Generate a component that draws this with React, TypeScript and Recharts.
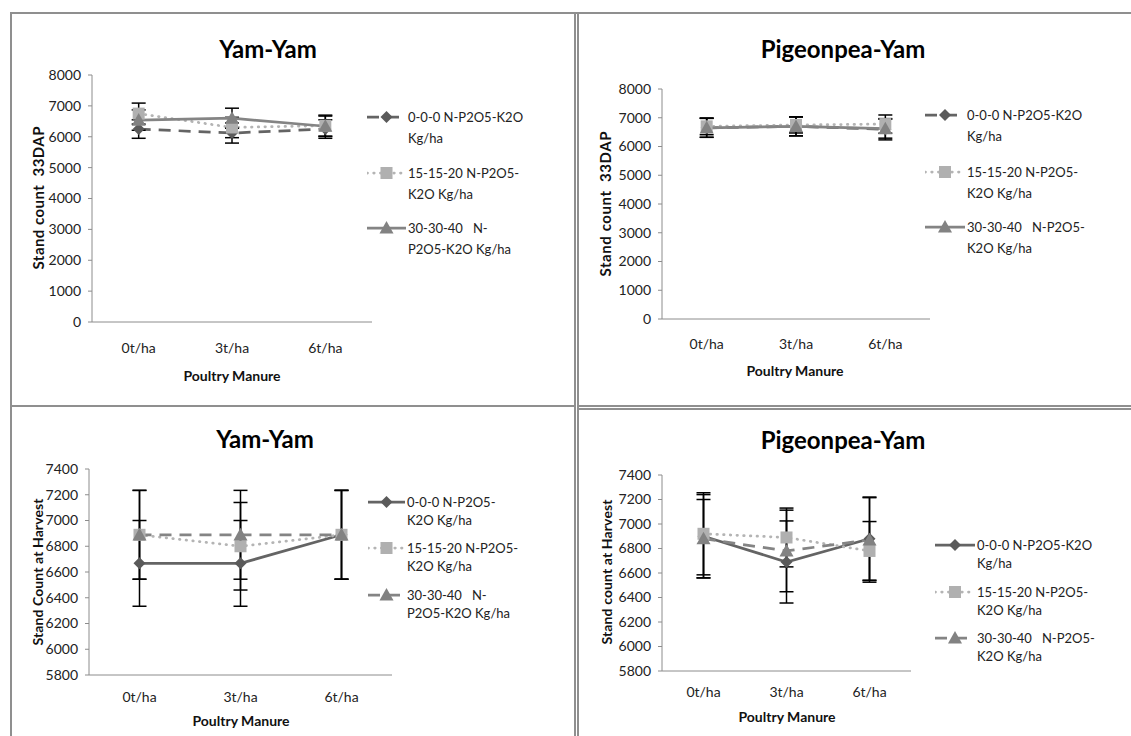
import React from "react";
import { LineChart, Line, XAxis, YAxis, ErrorBar } from "recharts";

const FONT = "Lato, 'Open Sans', sans-serif";

const categories = ["0t/ha", "3t/ha", "6t/ha"];
const dapTicks = [0, 1000, 2000, 3000, 4000, 5000, 6000, 7000, 8000];
const harvestTicks = [5800, 6000, 6200, 6400, 6600, 6800, 7000, 7200, 7400];

// Yam-Yam, stand count 33 DAP
const yamDapNone = [6250, 6120, 6250];
const yamDapNoneErr = [300, 325, 300];
const yamDapLow = [6750, 6300, 6360];
const yamDapLowErr = [340, 330, 340];
const yamDapHigh = [6540, 6600, 6340];
const yamDapHighErr = [330, 325, 330];

// Pigeonpea-Yam, stand count 33 DAP
const pigDapNone = [6650, 6700, 6600];
const pigDapNoneErr = [330, 330, 370];
const pigDapLow = [6700, 6750, 6780];
const pigDapLowErr = [290, 280, 316];
const pigDapHigh = [6650, 6700, 6620];
const pigDapHighErr = [330, 330, 330];

// Yam-Yam, stand count at harvest
const yamHarvNone = [6667, 6667, 6889];
const yamHarvNoneErr = [333, 333, 345];
const yamHarvLow = [6889, 6800, 6889];
const yamHarvLowErr = [345, 340, 345];
const yamHarvHigh = [6889, 6889, 6889];
const yamHarvHighErr = [345, 345, 345];

// Pigeonpea-Yam, stand count at harvest
const pigHarvNone = [6900, 6690, 6880];
const pigHarvNoneErr = [340, 335, 340];
const pigHarvLow = [6920, 6890, 6780];
const pigHarvLowErr = [335, 240, 240];
const pigHarvHigh = [6880, 6780, 6870];
const pigHarvHighErr = [320, 333, 345];

const build = (a: number[], ae: number[], b: number[], be: number[], c: number[], ce: number[]) =>
  categories.map((name, i) => ({ name, s1: a[i], s1e: ae[i], s2: b[i], s2e: be[i], s3: c[i], s3e: ce[i] }));

const DASH = "12 8";
const DOT = "0.5 6.2";

const C1 = { line: "#646464", marker: "#5a5a5a" };
const C2 = { line: "#b4b4b4", marker: "#b0b0b0" };
const C3 = { line: "#848484", marker: "#828282" };

function Marker({ shape, cx, cy, fill }: any) {
  if (cx == null || cy == null) return null;
  if (shape === "diamond") {
    const s = 6;
    return <path d={`M${cx},${cy - s}L${cx + s},${cy}L${cx},${cy + s}L${cx - s},${cy}Z`} fill={fill} />;
  }
  if (shape === "square") {
    const s = 6;
    return <rect x={cx - s} y={cy - s} width={s * 2} height={s * 2} fill={fill} />;
  }
  const s = 7;
  return <path d={`M${cx},${cy - s}L${cx + s},${cy + s * 0.8}L${cx - s},${cy + s * 0.8}Z`} fill={fill} />;
}

const topStyles = [
  { key: "s1", dash: DASH, shape: "diamond", c: C1 },
  { key: "s2", dash: DOT, shape: "square", c: C2 },
  { key: "s3", dash: undefined, shape: "triangle", c: C3 },
];
const bottomStyles = [
  { key: "s1", dash: undefined, shape: "diamond", c: C1 },
  { key: "s2", dash: DOT, shape: "square", c: C2 },
  { key: "s3", dash: DASH, shape: "triangle", c: C3 },
];

const panels = [
  {
    title: "Yam-Yam", tx: 268, ty: 48,
    yLabel: "Stand count  33DAP", yls: 15, ylLen: 143, ylx: 38, yly: 198,
    xlx: 232, xly: 375, xtm: 15,
    plot: { left: 92, right: 372, top: 75, bottom: 322 },
    domain: [0, 8000], ticks: dapTicks,
    rows: build(yamDapNone, yamDapNoneErr, yamDapLow, yamDapLowErr, yamDapHigh, yamDapHighErr),
    styles: topStyles,
    legend: {
      x: 367, text: 408, ys: [117, 173, 228], lh: 21,
      labels: [["0-0-0 N-P2O5-K2O", "Kg/ha"], ["15-15-20 N-P2O5-", "K2O Kg/ha"], ["30-30-40   N-", "P2O5-K2O Kg/ha"]],
    },
  },
  {
    title: "Pigeonpea-Yam", tx: 843, ty: 48,
    yLabel: "Stand count  33DAP", yls: 15, ylLen: 145, ylx: 605, yly: 204,
    xlx: 795, xly: 370, xtm: 14,
    plot: { left: 662, right: 930, top: 89, bottom: 319 },
    domain: [0, 8000], ticks: dapTicks,
    rows: build(pigDapNone, pigDapNoneErr, pigDapLow, pigDapLowErr, pigDapHigh, pigDapHighErr),
    styles: topStyles,
    legend: {
      x: 925, text: 967, ys: [115, 172, 227], lh: 21,
      labels: [["0-0-0 N-P2O5-K2O", "Kg/ha"], ["15-15-20 N-P2O5-", "K2O Kg/ha"], ["30-30-40   N-P2O5-", "K2O Kg/ha"]],
    },
  },
  {
    title: "Yam-Yam", tx: 265, ty: 438,
    yLabel: "Stand Count at Harvest", yls: 14, ylLen: 147, ylx: 37, yly: 572,
    xlx: 241, xly: 720, xtm: 11,
    plot: { left: 89, right: 392, top: 469, bottom: 675 },
    domain: [5800, 7400], ticks: harvestTicks,
    rows: build(yamHarvNone, yamHarvNoneErr, yamHarvLow, yamHarvLowErr, yamHarvHigh, yamHarvHighErr),
    styles: bottomStyles,
    legend: {
      x: 368, text: 407, ys: [502, 548, 595], lh: 18.5,
      labels: [["0-0-0 N-P2O5-", "K2O Kg/ha"], ["15-15-20 N-P2O5-", "K2O Kg/ha"], ["30-30-40   N-", "P2O5-K2O Kg/ha"]],
    },
  },
  {
    title: "Pigeonpea-Yam", tx: 843, ty: 439,
    yLabel: "Stand count at Harvest", yls: 14, ylLen: 145, ylx: 606, yly: 572,
    xlx: 787, xly: 716, xtm: 10,
    plot: { left: 662, right: 911, top: 475, bottom: 671 },
    domain: [5800, 7400], ticks: harvestTicks,
    rows: build(pigHarvNone, pigHarvNoneErr, pigHarvLow, pigHarvLowErr, pigHarvHigh, pigHarvHighErr),
    styles: bottomStyles,
    legend: {
      x: 935, text: 977, ys: [545, 592, 638], lh: 18,
      labels: [["0-0-0 N-P2O5-K2O", "Kg/ha"], ["15-15-20 N-P2O5-", "K2O Kg/ha"], ["30-30-40   N-P2O5-", "K2O Kg/ha"]],
    },
  },
];

const Y_W = 60;
const M_TOP = 10;
const M_RIGHT = 10;
const X_H = 40;

function Panel({ p }: any) {
  const plotW = p.plot.right - p.plot.left;
  const pad = plotW / categories.length / 2;
  const w = plotW + Y_W + M_RIGHT;
  const h = p.plot.bottom - p.plot.top + M_TOP + X_H;
  const tick = { fill: "#222", fontSize: 14, fontFamily: FONT };
  const iconW = p.legend.text - p.legend.x - 2;
  return (
    <>
      <div style={{ position: "absolute", left: p.plot.left - Y_W, top: p.plot.top - M_TOP }}>
        <LineChart width={w} height={h} data={p.rows} margin={{ top: M_TOP, right: M_RIGHT, left: 0, bottom: 0 }}>
          <XAxis dataKey="name" height={X_H} tickLine={false} tickMargin={p.xtm} interval={0}
            padding={{ left: pad, right: pad }}
            axisLine={{ stroke: "#8c8c8c" }} tick={tick} />
          <YAxis type="number" domain={p.domain} ticks={p.ticks} interval={0} width={Y_W}
            axisLine={{ stroke: "#8c8c8c" }} tickLine={{ stroke: "#8c8c8c" }} tickSize={4} tickMargin={7}
            tick={tick} allowDataOverflow />
          {p.styles.map((s: any) => (
            <Line key={s.key} dataKey={s.key} type="linear" stroke={s.c.line} strokeWidth={2.75}
              strokeDasharray={s.dash} strokeLinecap={s.dash === DOT ? "round" : "butt"}
              isAnimationActive={false}
              dot={(d: any) => <Marker key={`${s.key}-${d.index}`} shape={s.shape} cx={d.cx} cy={d.cy} fill={s.c.marker} />}
              activeDot={false}>
              <ErrorBar dataKey={`${s.key}e`} direction="y" width={7} stroke="#000" strokeWidth={1.5} isAnimationActive={false} />
            </Line>
          ))}
        </LineChart>
      </div>
      {p.styles.map((s: any, i: number) => (
        <div key={s.key}>
          <svg style={{ position: "absolute", left: p.legend.x, top: p.legend.ys[i] - 8 }} width={iconW} height={16}>
            <line x1={0} x2={iconW} y1={8} y2={8} stroke={s.c.line} strokeWidth={2.75}
              strokeDasharray={s.dash} strokeLinecap={s.dash === DOT ? "round" : "butt"} />
            <Marker shape={s.shape} cx={iconW / 2} cy={8} fill={s.c.marker} />
          </svg>
          <div style={{ position: "absolute", left: p.legend.text, top: p.legend.ys[i] - p.legend.lh / 2,
            fontFamily: FONT, fontSize: 13, lineHeight: `${p.legend.lh}px`, color: "#222", whiteSpace: "pre" }}>
            {p.legend.labels[i].map((t: string) => <div key={t}>{t}</div>)}
          </div>
        </div>
      ))}
    </>
  );
}

function Texts() {
  return (
    <svg width={1131} height={736} style={{ position: "absolute", left: 0, top: 0, pointerEvents: "none" }}
      fontFamily={FONT} fontWeight={700}>
      {panels.map((p, i) => (
        <g key={i}>
          <text x={p.tx} y={p.ty} textAnchor="middle" dominantBaseline="central" fontSize={24} fill="#000">{p.title}</text>
          <text x={p.xlx} y={p.xly} textAnchor="middle" dominantBaseline="central" fontSize={14} fill="#111">Poultry Manure</text>
          <text x={0} y={0} transform={`translate(${p.ylx},${p.yly}) rotate(-90)`} textAnchor="middle"
            dominantBaseline="central" fontSize={p.yls} fill="#111" textLength={p.ylLen} lengthAdjust="spacing"
            style={{ whiteSpace: "pre" }}>{p.yLabel}</text>
        </g>
      ))}
    </svg>
  );
}

const border = "#8f8f8f";
const hl = (left: number, top: number, width: number) => (
  <div style={{ position: "absolute", left, top, width, height: 2, background: border }} />
);
const vl = (left: number, top: number, height: number) => (
  <div style={{ position: "absolute", left, top, width: 2, height, background: border }} />
);

export default function App() {
  return (
    <div style={{ position: "absolute", left: 0, top: 0, width: 1131, height: 736, background: "#fff", overflow: "hidden" }}>
      {hl(10, 12, 1121)}
      {vl(10, 12, 724)}
      {vl(574, 12, 724)}
      {vl(577, 12, 724)}
      {hl(10, 405, 565)}
      {hl(578, 405, 553)}
      {hl(578, 408, 553)}
      {panels.map((p, i) => <Panel key={i} p={p} />)}
      <Texts />
    </div>
  );
}
